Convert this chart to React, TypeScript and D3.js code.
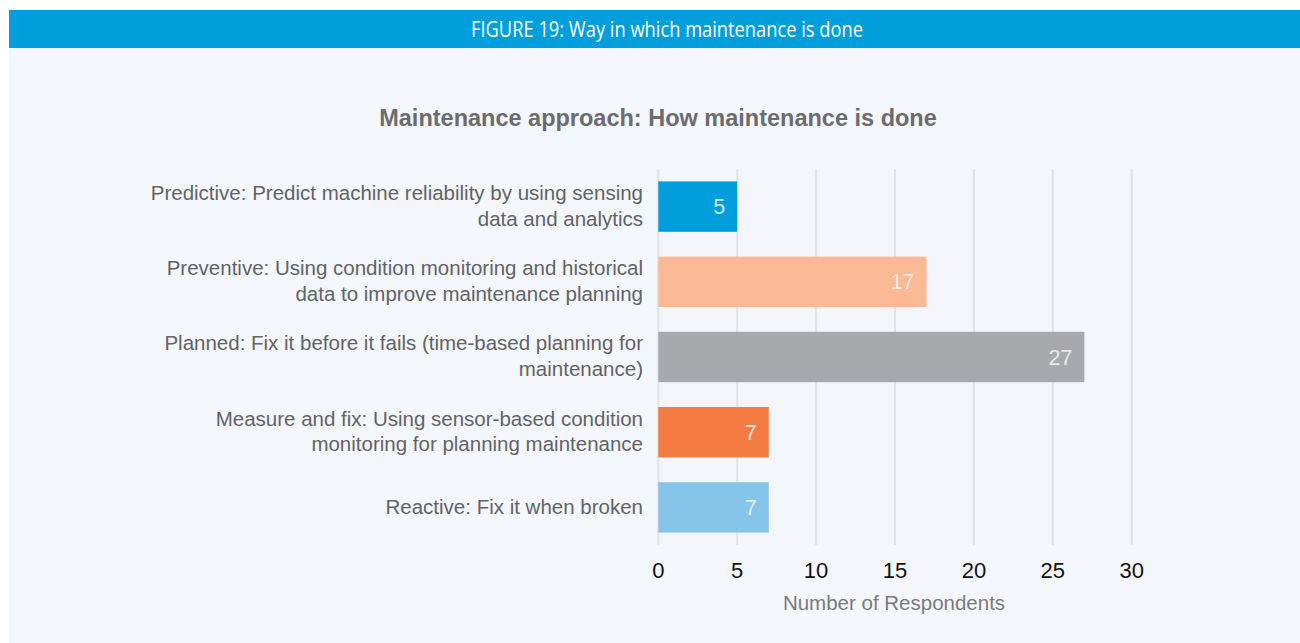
import React from "react";
import * as d3 from "d3";

const categories: string[][] = [
  ["Predictive: Predict machine reliability by using sensing", "data and analytics"],
  ["Preventive: Using condition monitoring and historical", "data to improve maintenance planning"],
  ["Planned: Fix it before it fails (time-based planning for", "maintenance)"],
  ["Measure and fix: Using sensor-based condition", "monitoring for planning maintenance"],
  ["Reactive: Fix it when broken"],
];
const values: number[] = [5, 17, 27, 7, 7];
const barColors: string[] = ["#009edb", "#fbb995", "#a8a9ad", "#f47c43", "#86c5ea"];
const xTicks: number[] = [0, 5, 10, 15, 20, 25, 30];

const W = 1300;
const H = 643;

export default function App() {
  const x = d3.scaleLinear().domain([0, 30]).range([658.3, 1131.7]);
  const y = d3
    .scaleBand<number>()
    .domain(values.map((_, i) => i))
    .range([169, 545])
    .paddingInner(0.33)
    .paddingOuter(0.165);

  return (
    <svg
      width={W}
      height={H}
      style={{ position: "absolute", left: 0, top: 0, display: "block" }}
      fontFamily="'Liberation Sans', Arial, sans-serif"
    >
      <rect x={0} y={0} width={W} height={H} fill="#ffffff" />
      <rect x={9} y={48} width={W - 9} height={H - 48} fill="#f3f6fb" />
      <rect x={9} y={10} width={W - 9} height={38} fill="#009edb" />
      <text
        x={667}
        y={36.5}
        textAnchor="middle"
        fill="#ffffff"
        fontSize={21.5}
        textLength={392}
        lengthAdjust="spacingAndGlyphs"
        fontFamily="'Open Sans', 'Liberation Sans', sans-serif"
      >
        FIGURE 19: Way in which maintenance is done
      </text>
      <text
        x={658}
        y={126}
        textAnchor="middle"
        fill="#6b6c70"
        fontSize={23.5}
        fontWeight="bold"
      >
        Maintenance approach: How maintenance is done
      </text>

      {xTicks.map((t) => (
        <line
          key={"g" + t}
          x1={x(t)}
          x2={x(t)}
          y1={169}
          y2={545}
          stroke="#e1e3e7"
          strokeWidth={2}
        />
      ))}

      {values.map((v, i) => {
        const by = y(i)!;
        const bh = y.bandwidth();
        return (
          <g key={"b" + i}>
            <rect x={x(0)} y={by} width={x(v) - x(0)} height={bh} fill={barColors[i]} />
            <text
              x={x(v) - 12}
              y={by + bh / 2}
              dy="0.35em"
              textAnchor="end"
              fill="#f0f0f0"
              fillOpacity={0.92}
              fontSize={21.5}
            >
              {v}
            </text>
          </g>
        );
      })}

      {categories.map((lines, i) => {
        const cy = y(i)! + y.bandwidth() / 2;
        const lh = 25.5;
        const start = cy - ((lines.length - 1) * lh) / 2 - 1;
        return (
          <text key={"c" + i} textAnchor="end" fill="#626366" fontSize={20.5}>
            {lines.map((ln, j) => (
              <tspan key={j} x={643} y={start + j * lh} dy="0.35em">
                {ln}
              </tspan>
            ))}
          </text>
        );
      })}

      {xTicks.map((t) => (
        <text
          key={"t" + t}
          x={x(t)}
          y={570}
          dy="0.35em"
          textAnchor="middle"
          fill="#111111"
          fontSize={22}
        >
          {t}
        </text>
      ))}
      <text
        x={894}
        y={603}
        dy="0.35em"
        textAnchor="middle"
        fill="#7a7b7e"
        fontSize={20.5}
      >
        Number of Respondents
      </text>
    </svg>
  );
}
